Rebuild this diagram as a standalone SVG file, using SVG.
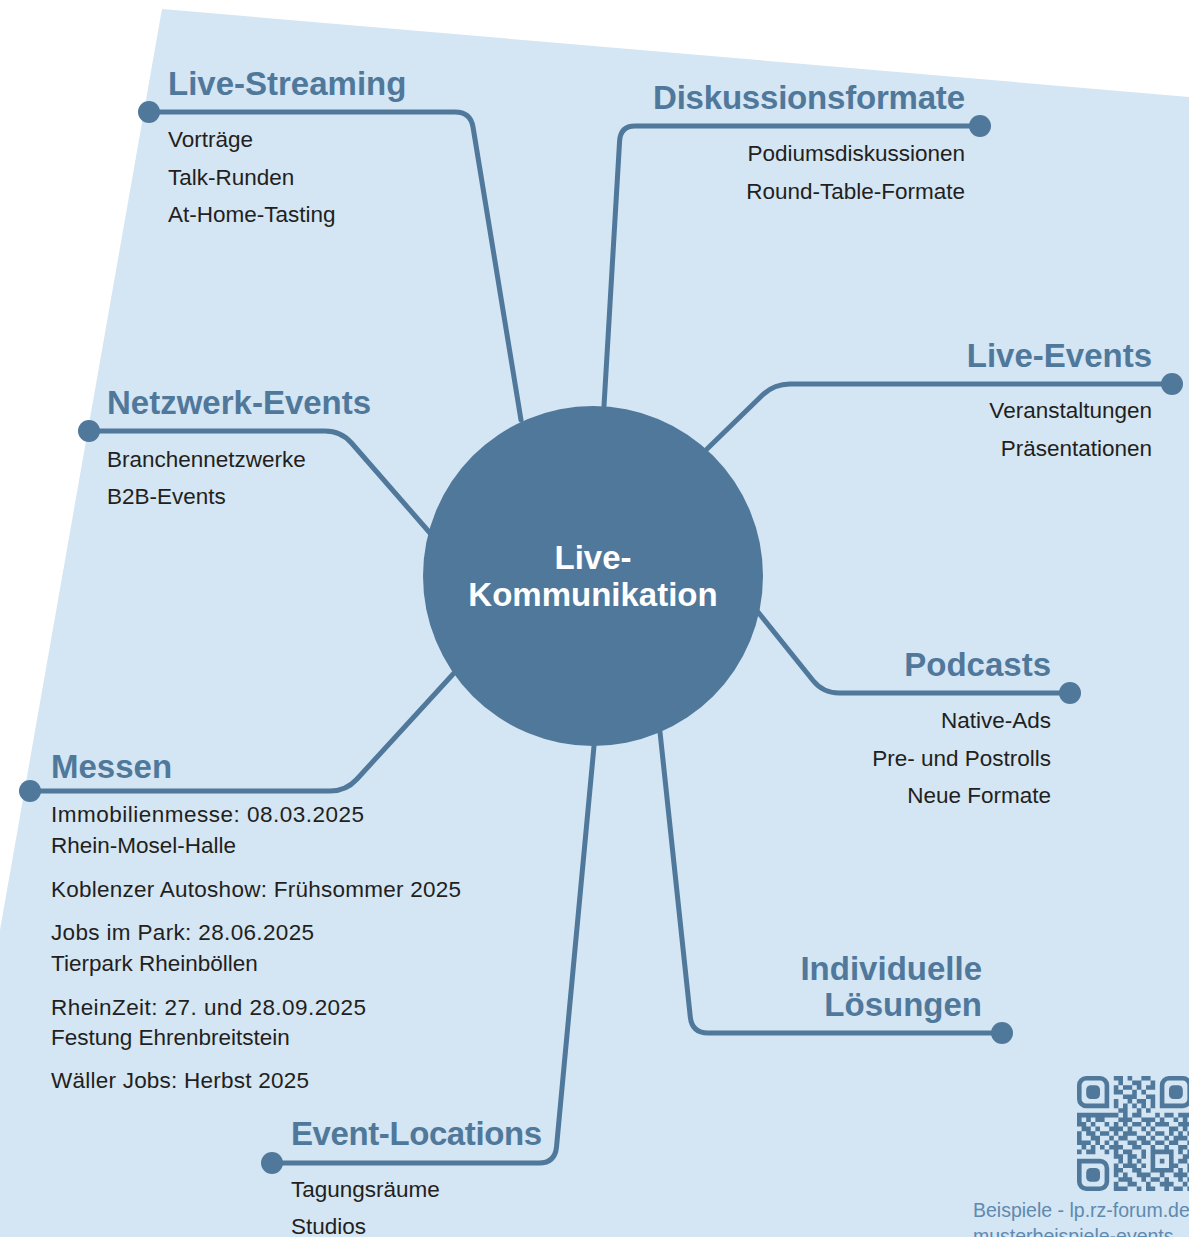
<svg xmlns="http://www.w3.org/2000/svg" width="1189" height="1237" viewBox="0 0 1189 1237">
<style>
.bg{fill:#d4e5f3}
.con{fill:none;stroke:#4f789b;stroke-width:5;stroke-linecap:round;stroke-linejoin:round}
.dot{fill:#4f789b}
.hd{font-family:"Liberation Sans",Arial,sans-serif;font-weight:bold;font-size:33px;fill:#4f789b}
.it{font-family:"Liberation Sans",Arial,sans-serif;font-size:22.5px;fill:#231f20}
.r{text-anchor:end}
.ctr{font-family:"Liberation Sans",Arial,sans-serif;font-weight:bold;font-size:33px;fill:#ffffff;text-anchor:middle}
.qr{fill:#4f789b}
.foot{font-family:"Liberation Sans",Arial,sans-serif;font-size:19.5px;fill:#5f8ab0}
</style>
<polygon class="bg" points="162,9 1189,97 1189,1237 0,1237 0,930"/>

<g id="connectors">
<path class="con" d="M149,112 H455 Q470.5,112 473,127 L521,420"/>
<path class="con" d="M980,126 H635 Q620.5,126 619.6,141 L604,406"/>
<path class="con" d="M1172,384 H790 Q774,384 762.5,395 L707,449"/>
<path class="con" d="M89,431 H325 Q341,431 351.5,443 L430,533"/>
<path class="con" d="M1070,693 H839 Q823,693 813,680.5 L758,612"/>
<path class="con" d="M30,791 H330 Q346,791 356.8,779.2 L455,672"/>
<path class="con" d="M1002,1033 H708 Q692,1033 690.3,1017 L660,732"/>
<path class="con" d="M272,1163 H539 Q555,1163 556.5,1147 L594,746"/>
</g>

<g id="center">
<circle cx="593" cy="576" r="170" fill="#4f789b"/>
<text class="ctr" x="593" y="569">Live-</text>
<text class="ctr" x="593" y="606">Kommunikation</text>
</g>

<g id="live-streaming">
<circle class="dot" cx="149" cy="112" r="11"/>
<text class="hd" x="168" y="95">Live-Streaming</text>
<text class="it" x="168" y="147">Vorträge</text>
<text class="it" x="168" y="185">Talk-Runden</text>
<text class="it" x="168" y="222">At-Home-Tasting</text>
</g>

<g id="diskussionsformate">
<circle class="dot" cx="980" cy="126" r="11"/>
<text class="hd r" x="965" y="109" textLength="312">Diskussionsformate</text>
<text class="it r" x="965" y="161">Podiumsdiskussionen</text>
<text class="it r" x="965" y="199">Round-Table-Formate</text>
</g>

<g id="live-events">
<circle class="dot" cx="1172" cy="384" r="11"/>
<text class="hd r" x="1152" y="367">Live-Events</text>
<text class="it r" x="1152" y="418">Veranstaltungen</text>
<text class="it r" x="1152" y="456">Präsentationen</text>
</g>

<g id="netzwerk-events">
<circle class="dot" cx="89" cy="431" r="11"/>
<text class="hd" x="107" y="414">Netzwerk-Events</text>
<text class="it" x="107" y="467">Branchennetzwerke</text>
<text class="it" x="107" y="504">B2B-Events</text>
</g>

<g id="podcasts">
<circle class="dot" cx="1070" cy="693" r="11"/>
<text class="hd r" x="1051" y="676">Podcasts</text>
<text class="it r" x="1051" y="728">Native-Ads</text>
<text class="it r" x="1051" y="766">Pre- und Postrolls</text>
<text class="it r" x="1051" y="803">Neue Formate</text>
</g>

<g id="messen">
<circle class="dot" cx="30" cy="791" r="11"/>
<text class="hd" x="51" y="778">Messen</text>
<text class="it" x="51" y="822" textLength="313">Immobilienmesse: 08.03.2025</text>
<text class="it" x="51" y="853">Rhein-Mosel-Halle</text>
<text class="it" x="51" y="897" textLength="410">Koblenzer Autoshow: Frühsommer 2025</text>
<text class="it" x="51" y="940" textLength="263">Jobs im Park: 28.06.2025</text>
<text class="it" x="51" y="971">Tierpark Rheinböllen</text>
<text class="it" x="51" y="1015" textLength="315">RheinZeit: 27. und 28.09.2025</text>
<text class="it" x="51" y="1045">Festung Ehrenbreitstein</text>
<text class="it" x="51" y="1088" textLength="258">Wäller Jobs: Herbst 2025</text>
</g>

<g id="individuelle-loesungen">
<circle class="dot" cx="1002" cy="1033" r="11"/>
<text class="hd r" x="982" y="980">Individuelle</text>
<text class="hd r" x="982" y="1016">Lösungen</text>
</g>

<g id="event-locations">
<circle class="dot" cx="272" cy="1163" r="11"/>
<text class="hd" x="291" y="1145" textLength="251">Event-Locations</text>
<text class="it" x="291" y="1197">Tagungsräume</text>
<text class="it" x="291" y="1234">Studios</text>
</g>

<g id="qr-code">
<g transform="translate(1077,1076) scale(4.6)">
<path class="qr" fill-rule="evenodd" d="M2,0 H5 A2,2 0 0 1 7,2 V7 H2 A2,2 0 0 1 0,5 V2 A2,2 0 0 1 2,0 Z M2,1 A1,1 0 0 0 1,2 V5 A1,1 0 0 0 2,6 H6 V2 A1,1 0 0 0 5,1 Z"/>
<rect class="qr" x="2" y="2" width="3" height="3" rx="1"/>
<path class="qr" fill-rule="evenodd" d="M20,0 H23 A2,2 0 0 1 25,2 V5 A2,2 0 0 1 23,7 H18 V2 A2,2 0 0 1 20,0 Z M20,1 A1,1 0 0 0 19,2 V6 H23 A1,1 0 0 0 24,5 V2 A1,1 0 0 0 23,1 Z"/>
<rect class="qr" x="20" y="2" width="3" height="3" rx="1"/>
<path class="qr" fill-rule="evenodd" d="M0,18 H5 A2,2 0 0 1 7,20 V23 A2,2 0 0 1 5,25 H2 A2,2 0 0 1 0,23 Z M1,19 V23 A1,1 0 0 0 2,24 H5 A1,1 0 0 0 6,23 V20 A1,1 0 0 0 5,19 Z"/>
<rect class="qr" x="2" y="20" width="3" height="3" rx="1"/>
<path class="qr" d="M8 0h2v1h-2z M11 0h1v1h-1z M14 0h2v1h-2z
M9 1h1v1h-1z M12 1h2v1h-2z M16 1h1v1h-1z
M8 2h1v1h-1z M10 2h2v1h-2z M13 2h1v1h-1z M15 2h2v1h-2z
M8 3h2v1h-2z M12 3h1v1h-1z M14 3h1v1h-1z
M10 4h3v1h-3z M15 4h2v1h-2z
M8 5h1v1h-1z M11 5h1v1h-1z M13 5h2v1h-2z M16 5h1v1h-1z
M8 6h1v1h-1z M10 6h1v1h-1z M12 6h1v1h-1z M14 6h1v1h-1z M16 6h1v1h-1z
M9 7h2v1h-2z M13 7h1v1h-1z M15 7h1v1h-1z
M0 8h9v1h-9z M10 8h1v1h-1z M12 8h2v1h-2z M17 8h1v1h-1z M19 8h2v1h-2z M22 8h3v1h-3z
M0 9h1v1h-1z M2 9h1v1h-1z M4 9h2v1h-2z M9 9h3v1h-3z M14 9h3v1h-3z M18 9h1v1h-1z M21 9h1v1h-1z M23 9h1v1h-1z
M0 10h2v1h-2z M3 10h1v1h-1z M6 10h1v1h-1z M8 10h1v1h-1z M10 10h1v1h-1z M12 10h2v1h-2z M15 10h1v1h-1z M17 10h3v1h-3z M22 10h3v1h-3z
M1 11h2v1h-2z M4 11h1v1h-1z M7 11h3v1h-3z M11 11h1v1h-1z M14 11h1v1h-1z M16 11h1v1h-1z M20 11h2v1h-2z M23 11h1v1h-1z
M0 12h1v1h-1z M2 12h2v1h-2z M5 12h2v1h-2z M8 12h1v1h-1z M10 12h3v1h-3z M15 12h1v1h-1z M17 12h2v1h-2z M20 12h1v1h-1z M22 12h1v1h-1z M24 12h1v1h-1z
M0 13h1v1h-1z M3 13h2v1h-2z M7 13h1v1h-1z M9 13h2v1h-2z M13 13h2v1h-2z M16 13h1v1h-1z M19 13h1v1h-1z M21 13h3v1h-3z
M0 14h3v1h-3z M4 14h1v1h-1z M6 14h1v1h-1z M8 14h1v1h-1z M11 14h2v1h-2z M14 14h2v1h-2z M17 14h2v1h-2z M20 14h2v1h-2z M24 14h1v1h-1z
M1 15h1v1h-1z M3 15h1v1h-1z M5 15h1v1h-1z M7 15h3v1h-3z M12 15h2v1h-2z M16 15h1v1h-1z M19 15h1v1h-1z M22 15h2v1h-2z
M0 16h1v1h-1z M2 16h2v1h-2z M6 16h1v1h-1z M8 16h1v1h-1z M10 16h2v1h-2z M14 16h1v1h-1z M16 16h5v1h-5z M22 16h1v1h-1z M24 16h1v1h-1z
M8 17h2v1h-2z M11 17h2v1h-2z M14 17h1v1h-1z M16 17h1v1h-1z M20 17h1v1h-1z M23 17h2v1h-2z
M9 18h1v1h-1z M11 18h1v1h-1z M13 18h1v1h-1z M16 18h1v1h-1z M18 18h1v1h-1z M20 18h1v1h-1z M22 18h2v1h-2z
M8 19h1v1h-1z M10 19h3v1h-3z M14 19h1v1h-1z M16 19h1v1h-1z M20 19h2v1h-2z M24 19h1v1h-1z
M8 20h2v1h-2z M12 20h2v1h-2z M16 20h5v1h-5z M22 20h1v1h-1z M24 20h1v1h-1z
M8 21h1v1h-1z M10 21h1v1h-1z M13 21h3v1h-3z M18 21h1v1h-1z M21 21h3v1h-3z
M9 22h3v1h-3z M14 22h1v1h-1z M16 22h2v1h-2z M19 22h1v1h-1z M22 22h1v1h-1z M24 22h1v1h-1z
M8 23h1v1h-1z M11 23h2v1h-2z M15 23h1v1h-1z M18 23h3v1h-3z M23 23h1v1h-1z
M8 24h3v1h-3z M13 24h1v1h-1z M15 24h2v1h-2z M19 24h1v1h-1z M21 24h2v1h-2z M24 24h1v1h-1z"/>
</g>
<text class="foot" x="973" y="1217">Beispiele - lp.rz-forum.de</text>
<text class="foot" x="973" y="1243">musterbeispiele-events</text>
</g>
</svg>
